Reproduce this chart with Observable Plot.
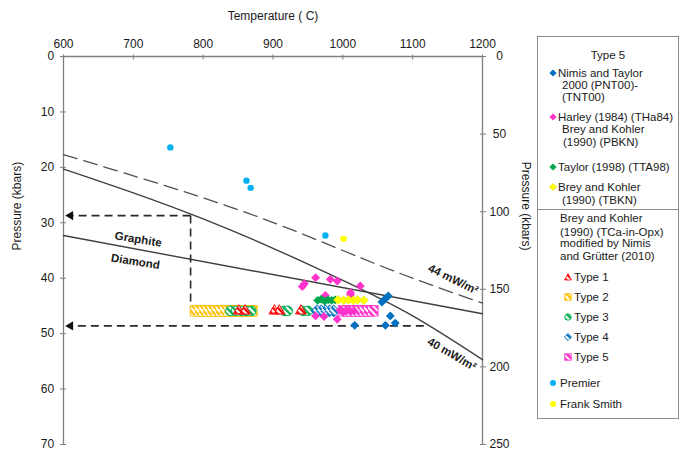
<!DOCTYPE html>
<html><head><meta charset="utf-8">
<script src="https://cdn.jsdelivr.net/npm/d3@7"></script>
<script src="https://cdn.jsdelivr.net/npm/@observablehq/plot@0.6"></script>
<style>
body{margin:0;background:#fff;font-family:"Liberation Sans",Arial,sans-serif;}
#wrap{position:relative;width:685px;height:460px;overflow:hidden;}
#legend{position:absolute;left:537px;top:36px;width:142px;height:383px;border:1px solid #8c8c8c;box-sizing:border-box;font-size:11.5px;color:#1a1a1a;}
.li{position:absolute;white-space:nowrap;line-height:12px;}
.sw{position:absolute;width:8px;height:8px;overflow:visible;}
</style></head><body>
<svg width="0" height="0" style="position:absolute">
<defs>
<pattern id="hR" patternUnits="userSpaceOnUse" width="4.5" height="4.5" patternTransform="rotate(-45)"><rect width="4.5" height="4.5" fill="#fff"/><rect width="2.3" height="4.5" fill="#ff0000"/></pattern>
<pattern id="hY" patternUnits="userSpaceOnUse" width="4.5" height="4.5" patternTransform="rotate(-45)"><rect width="4.5" height="4.5" fill="#fff"/><rect width="2.3" height="4.5" fill="#ffc000"/></pattern>
<pattern id="hG" patternUnits="userSpaceOnUse" width="4.5" height="4.5" patternTransform="rotate(-45)"><rect width="4.5" height="4.5" fill="#fff"/><rect width="2.3" height="4.5" fill="#00b050"/></pattern>
<pattern id="hB" patternUnits="userSpaceOnUse" width="4.5" height="4.5" patternTransform="rotate(-45)"><rect width="4.5" height="4.5" fill="#fff"/><rect width="2.3" height="4.5" fill="#0070c0"/></pattern>
<pattern id="hP" patternUnits="userSpaceOnUse" width="4.5" height="4.5" patternTransform="rotate(-45)"><rect width="4.5" height="4.5" fill="#fff"/><rect width="2.6" height="4.5" fill="#ff33cc"/></pattern>
</defs></svg>
<div id="wrap"><div id="chart"></div>
<div id="legend">
  <div class="li" style="left:0;width:140px;text-align:center;top:12px">Type 5</div>
  <svg class="sw" style="left:11px;top:32px" viewBox="-4 -4 8 8"><path d="M0,-3.6L3.6,0L0,3.6L-3.6,0Z" fill="#0070c0"/></svg>
  <div class="li" style="left:20px;top:30px">Nimis and Taylor</div>
  <div class="li" style="left:24px;top:42px">2000 (PNT00)-</div>
  <div class="li" style="left:24px;top:54px">(TNT00)</div>
  <svg class="sw" style="left:11px;top:76px" viewBox="-4 -4 8 8"><path d="M0,-3.6L3.6,0L0,3.6L-3.6,0Z" fill="#ff33cc"/></svg>
  <div class="li" style="left:20px;top:74px">Harley (1984) (THa84)</div>
  <div class="li" style="left:24px;top:86px">Brey and Kohler</div>
  <div class="li" style="left:25px;top:99px">(1990) (PBKN)</div>
  <svg class="sw" style="left:11px;top:126px" viewBox="-4 -4 8 8"><path d="M0,-3.6L3.6,0L0,3.6L-3.6,0Z" fill="#00a550"/></svg>
  <div class="li" style="left:20px;top:124px">Taylor (1998) (TTA98)</div>
  <svg class="sw" style="left:11px;top:146px" viewBox="-4 -4 8 8"><path d="M0,-3.6L3.6,0L0,3.6L-3.6,0Z" fill="#ffff00" stroke="#e0d800" stroke-width="0.6"/></svg>
  <div class="li" style="left:20px;top:144px">Brey and Kohler</div>
  <div class="li" style="left:24px;top:157px">(1990) (TBKN)</div>
  <div style="position:absolute;left:0;width:140px;top:172px;border-top:1px solid #8c8c8c"></div>
  <div class="li" style="left:22px;top:175px">Brey and Kohler</div>
  <div class="li" style="left:22px;top:189px">(1990) (TCa-in-Opx)</div>
  <div class="li" style="left:22px;top:200px">modified by Nimis</div>
  <div class="li" style="left:22px;top:213px">and Grütter (2010)</div>
  <svg class="sw" style="left:26px;top:236px" viewBox="-4 -4 8 8"><path d="M0,-3.4L3.4,3L-3.4,3Z" fill="url(#hR)" stroke="#ff0000" stroke-width="0.8"/></svg>
  <div class="li" style="left:36px;top:234px">Type 1</div>
  <svg class="sw" style="left:26px;top:256px" viewBox="-4 -4 8 8"><rect x="-3.2" y="-3.2" width="6.4" height="6.4" fill="url(#hY)" stroke="#ffc000" stroke-width="0.9"/></svg>
  <div class="li" style="left:36px;top:254px">Type 2</div>
  <svg class="sw" style="left:26px;top:276px" viewBox="-4 -4 8 8"><circle r="3.2" fill="url(#hG)" stroke="#00b050" stroke-width="0.9"/></svg>
  <div class="li" style="left:36px;top:274px">Type 3</div>
  <svg class="sw" style="left:26px;top:296px" viewBox="-4 -4 8 8"><path d="M0,-3.6L3.6,0L0,3.6L-3.6,0Z" fill="url(#hB)" stroke="#0070c0" stroke-width="0.8"/></svg>
  <div class="li" style="left:36px;top:294px">Type 4</div>
  <svg class="sw" style="left:26px;top:316px" viewBox="-4 -4 8 8"><rect x="-3.2" y="-3.2" width="6.4" height="6.4" fill="url(#hP)" stroke="#ff33cc" stroke-width="0.9"/></svg>
  <div class="li" style="left:36px;top:314px">Type 5</div>
  <svg class="sw" style="left:11px;top:342px" viewBox="-4 -4 8 8"><circle r="3" fill="#00b0f0"/></svg>
  <div class="li" style="left:22px;top:340px">Premier</div>
  <svg class="sw" style="left:11px;top:363px" viewBox="-4 -4 8 8"><circle r="3" fill="#ffff00"/></svg>
  <div class="li" style="left:22px;top:361px">Frank Smith</div>
</div>
</div>
<script>
// ---------- data ----------
const tempTicks = [600, 700, 800, 900, 1000, 1100, 1200];
const pressureTicks = [0, 10, 20, 30, 40, 50, 60, 70];
const rightTicks = [0, 50, 100, 150, 200, 250];

// geotherms and graphite-diamond boundary
const geo40T = [600, 700, 800, 900, 1000, 1100, 1200];
const geo40P = [20.3, 24.6, 29.3, 34.6, 40.4, 46.8, 54.7];
const geo44T = [600, 840, 1000, 1100, 1200];
const geo44P = [17.7, 27.2, 35.0, 40.0, 44.5];
const gdT = [600, 1200];
const gdP = [32.3, 46.4];

// dashed arrows
const arrowFromT = [782, 1116];
const arrowToT = [610, 610];
const arrowP = [28.7, 48.6];
const guideT = [782, 782];
const guideP = [28.7, 45.4];

// solid points
const premierT = [753, 862, 868, 975];
const premierP = [16.4, 22.4, 23.7, 32.3];
const frankT = [1001];
const frankP = [32.9];
const nimisT = [1056, 1060, 1065, 1068, 1075, 1061, 1017];
const nimisP = [44.3, 43.8, 43.2, 46.8, 48.1, 48.5, 48.5];
const harleyT = [942, 945, 961, 982, 992, 1025, 1011, 975, 1011, 961, 973, 992, 996, 1001, 1006, 1011, 1016];
const harleyP = [41.5, 41.0, 39.9, 40.2, 40.5, 41.4, 42.6, 43.1, 43.0, 46.8, 46.9, 47.4, 45.8, 46.1, 45.8, 46.0, 45.9];
const taylorT = [964, 969, 974, 979, 984, 989];
const taylorP = [44.0, 43.8, 44.1, 43.9, 44.0, 43.9];
const tbknT = [993, 1001, 1008, 1015, 1021, 1030];
const tbknP = [43.9, 44.0, 43.9, 44.0, 43.9, 44.0];

// TCa-in-Opx (hatched) temperatures, all at the same pressure
const hatchP = 45.9;
const type1T = [851, 860, 902, 909, 940];
const type2T = [789, 795, 801, 807, 813, 819, 825, 831, 837, 843, 849, 855, 861, 867, 870];
const type3T = [839, 847, 855, 862, 869, 916, 921, 943, 950];
const type4T = [963, 969, 975, 981, 987];
const type5T = [1001, 1007, 1013, 1019, 1025, 1031, 1037, 1043];

// ---------- build ----------
const pts = (T, P) => T.map((t, i) => ({T: t, P: Array.isArray(P) ? P[i] : P}));
const F = "'Liberation Sans', Arial, sans-serif";
const axisC = "#7f7f7f";
const lineC = "#404040";

const arrows = arrowFromT.map((t, i) => ({from: t, to: arrowToT[i], P: arrowP[i]}));
const guide = [{x1: guideT[0], x2: guideT[1], y1: guideP[0], y2: guideP[1]}];

function hatched(T, symbol, r, pat, col, merge) {
  const d = pts(T, hatchP);
  const m = [Plot.dot(d, {x: "T", y: "P", symbol, r, fill: pat, stroke: col, strokeWidth: merge ? 1.8 : 1})];
  if (merge) m.push(Plot.dot(d, {x: "T", y: "P", symbol, r, fill: pat, stroke: "none"}));
  return m;
}

const chart = Plot.plot({
  width: 685, height: 460,
  marginLeft: 63, marginRight: 203, marginTop: 56, marginBottom: 16,
  style: {fontFamily: F, fontSize: "12px", color: "#1a1a1a", background: "transparent", overflow: "visible"},
  x: {domain: [600, 1200]},
  y: {domain: [0, 70], reverse: true},
  marks: [
    Plot.ruleX([600], {stroke: axisC, strokeWidth: 1.3}),
    Plot.ruleX([1200], {stroke: axisC, strokeWidth: 1.3}),
    Plot.ruleY([0], {stroke: axisC, strokeWidth: 1.3}),
    Plot.axisX({anchor: "top", ticks: tempTicks, tickFormat: d => String(d), tickSize: 5, dy: 2.5, tickPadding: 6, stroke: axisC, label: null, fontSize: 12}),
    Plot.axisY({anchor: "left", ticks: pressureTicks, tickFormat: d => String(d), tickSize: 6, dx: 3, tickPadding: 6.3, stroke: axisC, label: null, fontSize: 12}),
    Plot.axisY({anchor: "right", ticks: rightTicks.map(v => v * 70 / 250), tickSize: 6, dx: -3, tickFormat: () => "", stroke: axisC, label: null}),
    Plot.text(rightTicks, {x: 1200, y: d => d * 70 / 250, text: d => String(d), dx: 17, textAnchor: "middle", fontSize: 12}),
    Plot.text(["Temperature ( C)"], {frameAnchor: "top", text: d => d, dy: -45, fontSize: 12}),
    Plot.text(["Pressure (kbars)"], {frameAnchor: "left", text: d => d, dx: -46, rotate: -90, fontSize: 12}),
    Plot.text(["Pressure (kbars)"], {frameAnchor: "right", text: d => d, dx: 43, rotate: 90, fontSize: 12}),

    // curves
    Plot.line(pts(geo44T, geo44P), {x: "T", y: "P", curve: "natural", stroke: "#505050", strokeWidth: 1.3, strokeDasharray: "14,7"}),
    Plot.line(pts(geo40T, geo40P), {x: "T", y: "P", curve: "natural", stroke: lineC, strokeWidth: 1.4}),
    Plot.line(pts(gdT, gdP), {x: "T", y: "P", stroke: lineC, strokeWidth: 1.4}),

    // dashed guides with arrowheads
    Plot.link(arrows, {x1: "from", x2: "to", y1: "P", y2: "P", stroke: "#2a2a2a", strokeWidth: 1.6, strokeDasharray: "8,5"}),
    Plot.link(guide, {x1: "x1", x2: "x2", y1: "y1", y2: "y2", stroke: "#2a2a2a", strokeWidth: 1.6, strokeDasharray: "8,5"}),
    Plot.dot(arrows, {x: "to", y: "P", symbol: "triangle", rotate: -90, r: 3.4, fill: "#111", stroke: "none"}),

    // labels
    Plot.text([{T: 707, P: 33.0, t: "Graphite"}], {x: "T", y: "P", text: "t", rotate: 9, fontWeight: "bold", fontSize: 11.5, fill: "#1a1a1a"}),
    Plot.text([{T: 703, P: 37.0, t: "Diamond"}], {x: "T", y: "P", text: "t", rotate: 9, fontWeight: "bold", fontSize: 11.5, fill: "#1a1a1a"}),
    Plot.text([{T: 1158, P: 40.2, t: "44 mW/m²"}], {x: "T", y: "P", text: "t", rotate: 26, fontWeight: "bold", fontSize: 11.5, fill: "#1a1a1a"}),
    Plot.text([{T: 1156, P: 53.7, t: "40 mW/m²"}], {x: "T", y: "P", text: "t", rotate: 30, fontWeight: "bold", fontSize: 11.5, fill: "#1a1a1a"}),

    // hatched TCa-in-Opx markers
    ...hatched(type2T, "square", 5.4, "url(#hY)", "#ffc000", true),
    ...hatched(type3T, "circle", 4.8, "url(#hG)", "#00b050", false),
    ...hatched(type1T, "triangle", 4.0, "url(#hR)", "#ff0000", false),
    ...hatched(type4T, "diamond2", 4.6, "url(#hB)", "#0070c0", true),
    ...hatched(type5T, "square", 5.4, "url(#hP)", "#ff33cc", true),

    // solid markers
    Plot.dot(pts(harleyT, harleyP), {x: "T", y: "P", symbol: "diamond2", r: 4, fill: "#ff33cc"}),
    Plot.dot(pts(taylorT, taylorP), {x: "T", y: "P", symbol: "diamond2", r: 4, fill: "#00a550"}),
    Plot.dot(pts(tbknT, tbknP), {x: "T", y: "P", symbol: "diamond2", r: 4, fill: "#ffff00", stroke: "#e6dc00", strokeWidth: 0.6}),
    Plot.dot(pts(nimisT, nimisP), {x: "T", y: "P", symbol: "diamond2", r: 4, fill: "#0070c0"}),
    Plot.dot(pts(premierT, premierP), {x: "T", y: "P", r: 3.2, fill: "#00b0f0"}),
    Plot.dot(pts(frankT, frankP), {x: "T", y: "P", r: 3.2, fill: "#ffff00"})
  ]
});
document.getElementById("chart").appendChild(chart);
</script>
</body></html>
